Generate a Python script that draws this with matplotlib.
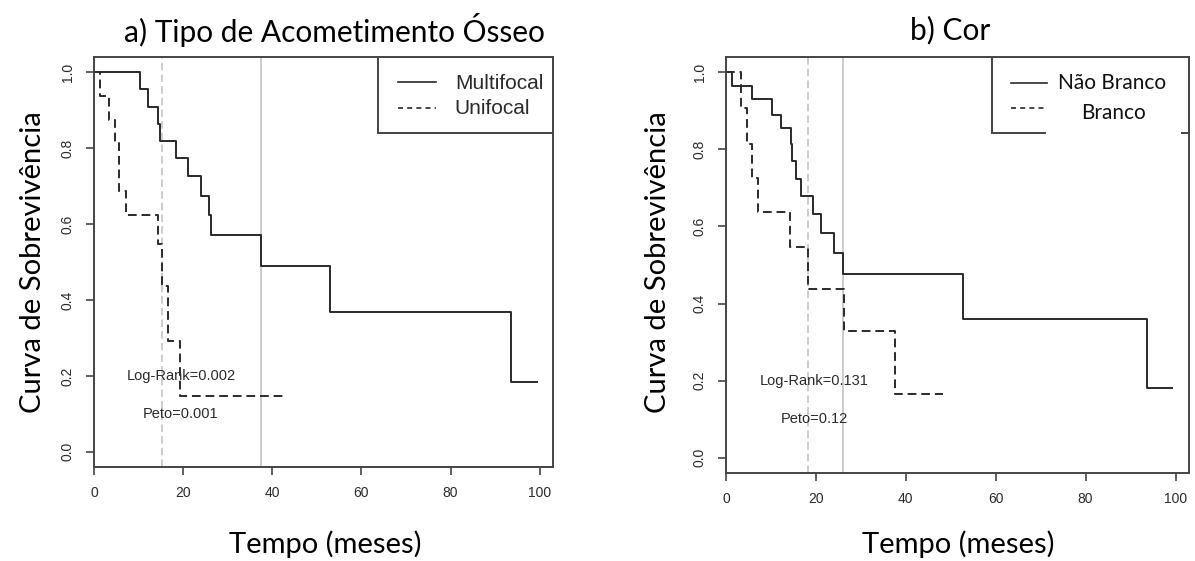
import matplotlib
matplotlib.use('Agg')
import matplotlib.pyplot as plt
from matplotlib.patches import Rectangle

# a) Tipo de Acometimento Ósseo
multi_t = [0, 10.3, 12.2, 14.4, 14.8, 18.4, 21.1, 24.0, 25.9, 26.2, 37.5, 52.9, 93.6]
multi_s = [1.0, 0.955, 0.909, 0.864, 0.818, 0.773, 0.727, 0.675, 0.624, 0.570, 0.489, 0.367, 0.184]
multi_end = 99.3
uni_t = [0, 1.3, 3.4, 4.7, 5.7, 7.1, 14.3, 15.3, 16.7, 19.3]
uni_s = [1.0, 0.9375, 0.875, 0.8125, 0.6875, 0.625, 0.547, 0.4375, 0.292, 0.146]
uni_end = 42.8
medians_a = [37.5, 15.3]
labels_a = ['Multifocal', 'Unifocal']
stats_a = ['Log-Rank=0.002', 'Peto=0.001']

# b) Cor
nb_t = [0, 1.4, 5.7, 10.3, 12.2, 14.4, 14.7, 15.5, 16.7, 19.3, 21.2, 24.1, 26.0, 52.8, 93.6]
nb_s = [1.0, 0.964, 0.931, 0.890, 0.856, 0.813, 0.769, 0.724, 0.679, 0.633, 0.584, 0.530, 0.477, 0.359, 0.180]
nb_end = 99.3
br_t = [0, 3.3, 4.7, 5.8, 7.1, 14.3, 18.2, 26.2, 37.5]
br_s = [1.0, 0.907, 0.815, 0.725, 0.637, 0.546, 0.437, 0.328, 0.164]
br_end = 48.3
medians_b = [26.0, 18.2]
labels_b = ['Não Branco', 'Branco']
stats_b = ['Log-Rank=0.131', 'Peto=0.12']

xticks = [0, 20, 40, 60, 80, 100]
yticks = [0.0, 0.2, 0.4, 0.6, 0.8, 1.0]

ARIAL = 'Liberation Sans'
CALIBRI = 'Lato'
DARK = '#2a2a2a'
SPINE = '#444444'
GREY = '#c4c4c4'
DASH = (0, (4.5, 2.5))


def km(ax, t, s, end, ls):
    ax.step(list(t) + [end], list(s) + [s[-1]], where='post', color=DARK, lw=1.4, linestyle=ls)


def setup(ax):
    ax.set_xlim(0, 103)
    ax.set_ylim(-0.04, 1.04)
    ax.set_xticks(xticks)
    ax.set_yticks(yticks)
    ax.set_xticklabels([str(x) for x in xticks], fontfamily=ARIAL, fontsize=10, color=DARK)
    ax.set_yticklabels(['%.1f' % y for y in yticks], fontfamily=ARIAL, fontsize=10, color=DARK,
                       rotation=90, va='center')
    ax.tick_params(direction='out', length=6, width=1.2, color=SPINE, pad=8)
    for sp in ax.spines.values():
        sp.set_color(SPINE)
        sp.set_linewidth(1.4)


fig = plt.figure(figsize=(11.95, 5.61), dpi=100)
ax1 = fig.add_axes([94 / 1195, 94 / 561, 459 / 1195, 410 / 561])
ax2 = fig.add_axes([726 / 1195, 88 / 561, 463 / 1195, 416 / 561])

# panel a
setup(ax1)
ax1.axvline(medians_a[0], color=GREY, lw=1.2, zorder=1)
ax1.axvline(medians_a[1], color=GREY, lw=1.2, linestyle=DASH, zorder=1)
km(ax1, multi_t, multi_s, multi_end, '-')
km(ax1, uni_t, uni_s, uni_end, DASH)
ax1.text(19.7, 0.2, stats_a[0], ha='center', va='center', fontfamily=ARIAL, fontsize=10.5, color=DARK)
ax1.text(19.4, 0.1, stats_a[1], ha='center', va='center', fontfamily=ARIAL, fontsize=10.5, color=DARK)

tr = ax1.transAxes
ax1.add_patch(Rectangle((0.619, 0.815), 0.381, 0.185, transform=tr, fill=False,
                        edgecolor=SPINE, lw=1.4, zorder=5))
ax1.plot([0.662, 0.745], [0.938, 0.938], transform=tr, color=DARK, lw=1.2)
ax1.plot([0.662, 0.745], [0.876, 0.876], transform=tr, color=DARK, lw=1.2, linestyle=(0, (3, 2.5)))
ax1.text(0.786, 0.936, labels_a[0], transform=tr, va='center', fontfamily=ARIAL, fontsize=15, color=DARK)
ax1.text(0.786, 0.874, labels_a[1], transform=tr, va='center', fontfamily=ARIAL, fontsize=15, color=DARK)

# panel b
setup(ax2)
ax2.axvline(medians_b[0], color=GREY, lw=1.2, zorder=1)
ax2.axvline(medians_b[1], color=GREY, lw=1.2, linestyle=DASH, zorder=1)
km(ax2, nb_t, nb_s, nb_end, '-')
km(ax2, br_t, br_s, br_end, DASH)
ax2.text(19.7, 0.2, stats_b[0], ha='center', va='center', fontfamily=ARIAL, fontsize=10.5, color=DARK)
ax2.text(19.7, 0.1, stats_b[1], ha='center', va='center', fontfamily=ARIAL, fontsize=10.5, color=DARK)

tr = ax2.transAxes
ax2.add_patch(Rectangle((0.5745, 0.817), 0.4255, 0.183, transform=tr, fill=False,
                        edgecolor=SPINE, lw=1.4, zorder=5))
ax2.add_patch(Rectangle((0.691, 0.80), 0.292, 0.16, transform=tr, facecolor='white',
                        edgecolor='none', zorder=6))
ax2.plot([0.616, 0.693], [0.937, 0.937], transform=tr, color=DARK, lw=1.2, zorder=7)
ax2.plot([0.616, 0.693], [0.877, 0.877], transform=tr, color=DARK, lw=1.2, linestyle=(0, (3, 2.5)), zorder=7)
ax2.text(0.716, 0.937, labels_b[0], transform=tr, va='center', fontfamily=CALIBRI, fontsize=15, color='#111111', zorder=8)
ax2.text(0.836, 0.866, labels_b[1], transform=tr, ha='center', va='center', fontfamily=CALIBRI, fontsize=15, color='#111111', zorder=8)

# titles and axis labels
fig.text(334 / 1195, 1 - 30 / 561, 'a) Tipo de Acometimento Ósseo', ha='center', va='center', fontfamily=CALIBRI, fontsize=21.5)
fig.text(950 / 1195, 1 - 30 / 561, 'b) Cor', ha='center', va='center', fontfamily=CALIBRI, fontsize=21.5)
fig.text(33 / 1195, 1 - 262 / 561, 'Curva de Sobrevivência', rotation=90, ha='center', va='center', fontfamily=CALIBRI, fontsize=21)
fig.text(658 / 1195, 1 - 262 / 561, 'Curva de Sobrevivência', rotation=90, ha='center', va='center', fontfamily=CALIBRI, fontsize=21)
fig.text(325 / 1195, 1 - 544 / 561, 'Tempo (meses)', ha='center', va='center', fontfamily=CALIBRI, fontsize=21)
fig.text(958 / 1195, 1 - 544 / 561, 'Tempo (meses)', ha='center', va='center', fontfamily=CALIBRI, fontsize=21)

fig.savefig('out.png', dpi=100, facecolor='white')
